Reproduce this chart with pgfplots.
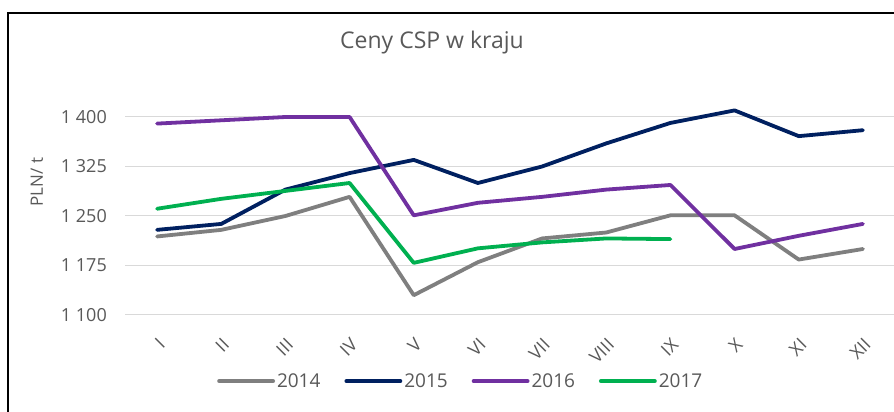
\documentclass[border=0pt]{standalone}
\usepackage{pgfplots}
\pgfplotsset{compat=1.18}
\usepackage{fontspec}
\setmainfont{Open Sans}
\definecolor{cA}{HTML}{7F7F7F}
\definecolor{cB}{HTML}{002060}
\definecolor{cC}{HTML}{7030A0}
\definecolor{cD}{HTML}{00B050}
\definecolor{txt}{HTML}{595959}
\definecolor{gridc}{HTML}{D9D9D9}
\begin{document}
\begin{tikzpicture}[x=1pt,y=1pt]
\useasboundingbox (0,0) rectangle (894,412);
\fill[white] (0,0) rectangle (894,412);
\draw[line width=2pt] (8,-20) -- (8,399) -- (920,399);
\node[text=txt, font=\fontsize{23}{26}\selectfont] at (432,369) {Ceny CSP w kraju};
\node[text=txt, rotate=90, font=\fontsize{17}{20}\selectfont] at (37,230) {PLN/ t};
\begin{axis}[
  at={(125pt,97pt)}, anchor=south west,
  width=770pt, height=211.2pt, scale only axis,
  xmin=-0.5, xmax=11.5, ymin=1100, ymax=1420,
  axis line style={draw=none}, major tick length=0pt,
  ymajorgrids, grid style={draw=gridc, line width=1pt},
  ytick={1100,1175,1250,1325,1400},
  yticklabels={1 100,1 175,1 250,1 325,1 400},
  xtick={0,1,2,3,4,5,6,7,8,9,10,11},
  xticklabels={I,II,III,IV,V,VI,VII,VIII,IX,X,XI,XII},
  tick label style={text=txt, font=\fontsize{18}{20}\selectfont},
  yticklabel style={anchor=east, inner sep=0pt, xshift=-18pt},
  xticklabel style={rotate=45, anchor=north east, inner sep=0pt},
  xticklabel shift=22pt,
  no markers,
  every axis plot/.append style={line width=3.8pt, line join=round, line cap=round},
  legend columns=4,
  legend style={at={(rel axis cs:0.436,-0.313)}, anchor=center, draw=none, fill=none,
    font=\fontsize{19}{21}\selectfont, text=txt,
    /tikz/every even column/.append style={column sep=22pt}},
  legend image code/.code={\draw[#1] (0pt,0pt) -- (54pt,0pt);},
]
\addplot[cA] coordinates {(0,1219) (1,1229) (2,1250) (3,1279) (4,1130) (5,1180) (6,1216) (7,1225) (8,1251) (9,1251) (10,1184) (11,1200)};
\addplot[cB] coordinates {(0,1229) (1,1238) (2,1290) (3,1315) (4,1335) (5,1300) (6,1325) (7,1360) (8,1391) (9,1410) (10,1371) (11,1380)};
\addplot[cC] coordinates {(0,1390) (1,1395) (2,1400) (3,1400) (4,1251) (5,1270) (6,1279) (7,1290) (8,1297) (9,1200) (10,1220) (11,1238)};
\addplot[cD] coordinates {(0,1261) (1,1276) (2,1288) (3,1300) (4,1179) (5,1201) (6,1210) (7,1216) (8,1215)};
\legend{2014,2015,2016,2017}
\end{axis}
\end{tikzpicture}
\end{document}
